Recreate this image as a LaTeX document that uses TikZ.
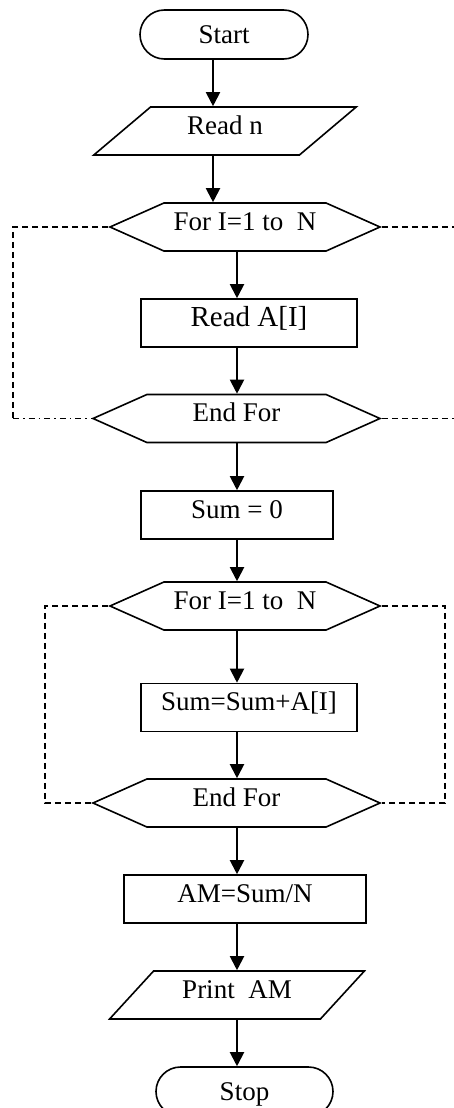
\documentclass[tikz,border=0pt]{standalone}
\usepackage{fontspec}
\setmainfont{Liberation Serif}
\usetikzlibrary{shapes.geometric,shapes.misc,shapes.symbols,arrows.meta}

\tikzset{
  every node/.style={font=\fontsize{13.5}{16}\selectfont, inner sep=0pt, line width=0.8pt},
  term/.style={draw, rounded rectangle, minimum height=24.5pt, text height=9pt, text depth=0pt},
  inout/.style={draw, trapezium, trapezium left angle=42, trapezium right angle=138,
                trapezium stretches=true, minimum height=24pt, text height=8pt, text depth=5pt},
  proc/.style={draw, rectangle, minimum height=24pt, text height=8pt, text depth=5pt},
  hexa/.style={draw, signal, signal to=west and east, signal pointer angle=48,
               minimum height=24pt, text height=8pt, text depth=5pt},
  arr/.style={-{Triangle[length=7pt,width=7pt]}, line width=1pt},
  dashline/.style={line width=0.7pt, dash pattern=on 3pt off 2pt},
  dashdotline/.style={line width=0.7pt, dash pattern=on 3pt off 2pt on 0.8pt off 2pt}
}

\begin{document}
\begin{tikzpicture}[x=0.5pt,y=-0.5pt]
  \useasboundingbox (0,0) rectangle (454,1108);
  \clip (0,0) rectangle (454,1108);

  % flow spines
  \coordinate (sa) at (213,0);
  \coordinate (sb) at (237,0);

  \node[term, minimum width=84pt] (start) at (224,34.5) {Start};
  \node[inout, minimum width=132pt] (readn) at (225,131) {Read n};
  \node[hexa, minimum width=135pt] (for1) at (245,227) {For I=1 to\ \ N};
  \node[proc, minimum width=108pt, font=\fontsize{14.5}{17}\selectfont] (reada) at (249,323) {Read A[I]};
  \node[hexa, minimum width=143.5pt] (end1) at (236.5,418.5) {End For};
  \node[proc, minimum width=96pt] (sum0) at (237,515) {Sum = 0};
  \node[hexa, minimum width=135pt] (for2) at (245,606) {For I=1 to\ \ N};
  \node[proc, minimum width=108pt] (sumadd) at (249,707.5) {Sum=Sum+A[I]};
  \node[hexa, minimum width=143.5pt] (end2) at (236.5,803) {End For};
  \node[proc, minimum width=121pt] (am) at (245,899) {AM=Sum/N};
  \node[inout, minimum width=128pt] (print) at (237,995) {Print\ \ AM};
  \node[term, minimum width=88.5pt] (stop) at (244.5,1091.5) {Stop};

  \draw[arr] (start.south -| sa) -- (readn.north -| sa);
  \draw[arr] (readn.south -| sa) -- (for1.north -| sa);
  \draw[arr] (for1.south -| sb) -- (reada.north -| sb);
  \draw[arr] (reada.south -| sb) -- (end1.north -| sb);
  \draw[arr] (end1.south -| sb) -- (sum0.north -| sb);
  \draw[arr] (sum0.south -| sb) -- (for2.north -| sb);
  \draw[arr] (for2.south -| sb) -- (sumadd.north -| sb);
  \draw[arr] (sumadd.south -| sb) -- (end2.north -| sb);
  \draw[arr] (end2.south -| sb) -- (am.north -| sb);
  \draw[arr] (am.south -| sb) -- (print.north -| sb);
  \draw[arr] (print.south -| sb) -- (stop.north -| sb);

  % loop returns
  \coordinate (la) at (13,0);
  \coordinate (ra) at (460,0);
  \coordinate (lb) at (45,0);
  \coordinate (rb) at (445,0);
  \draw[dashline] (for1.west) -- (for1.west -| la) -- (end1.west -| la);
  \draw[dashdotline] (end1.west -| la) -- (end1.west);
  \draw[dashline] (for1.east) -- (for1.east -| ra);
  \draw[dashline] (end1.east) -- (end1.east -| ra);
  \draw[dashline] (for2.west) -| (end2.west -| lb) -- (end2.west);
  \draw[dashline] (for2.east) -| (end2.east -| rb) -- (end2.east);
\end{tikzpicture}
\end{document}
